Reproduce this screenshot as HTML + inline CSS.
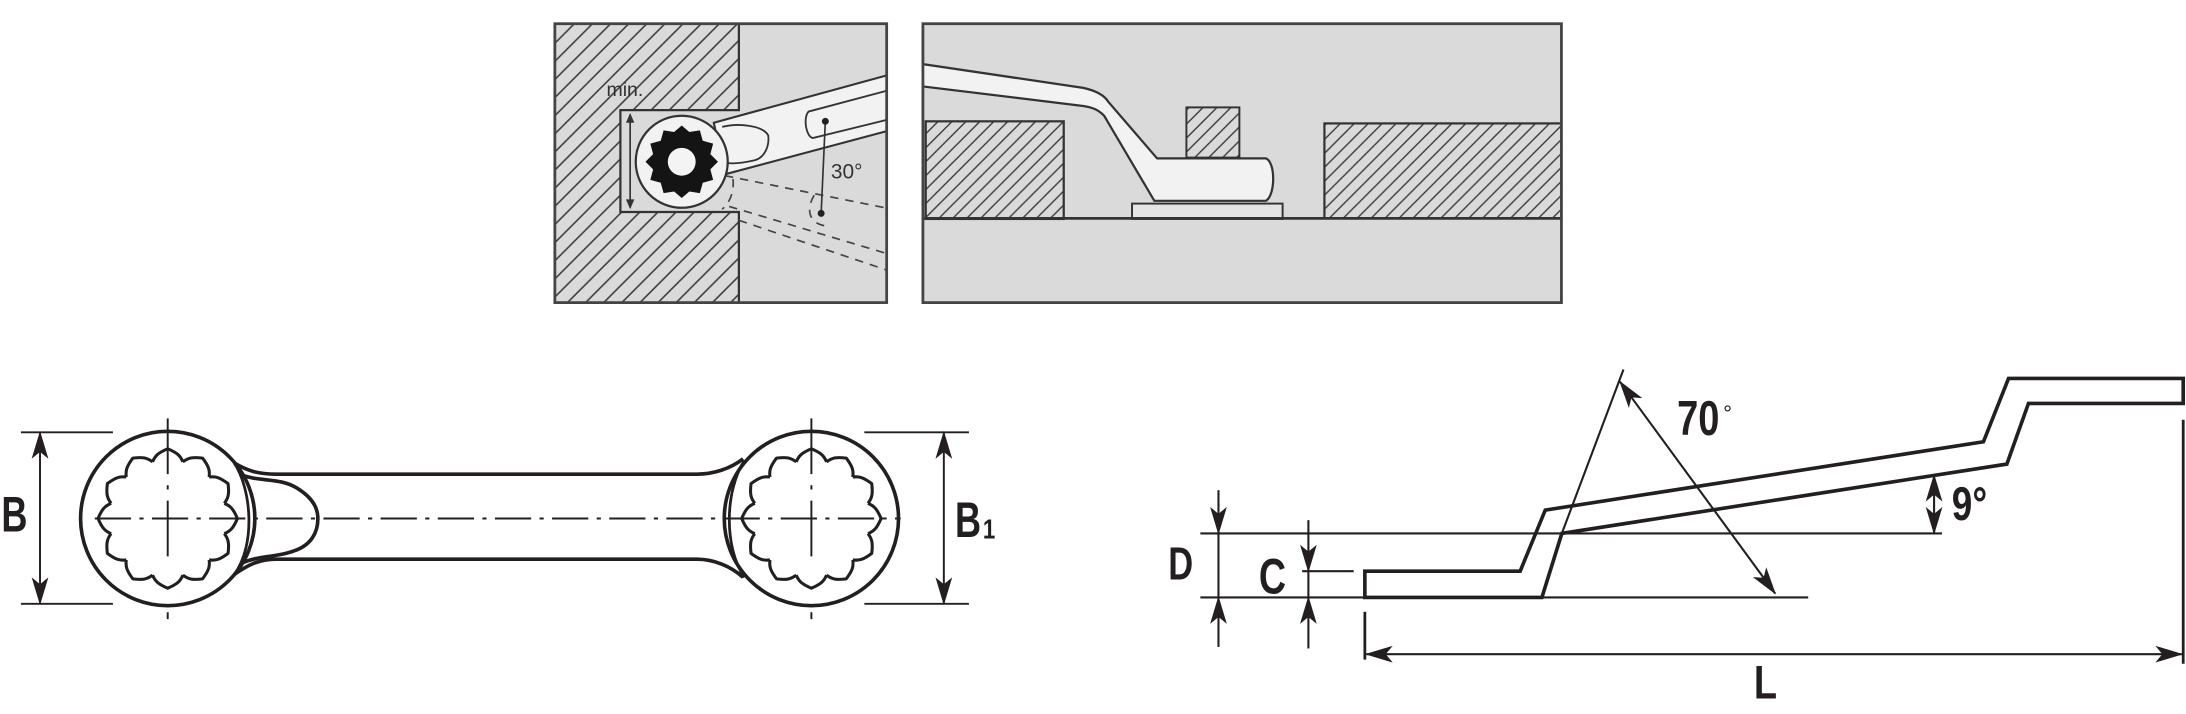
<!DOCTYPE html>
<html><head><meta charset="utf-8">
<style>
html,body{margin:0;padding:0;background:#fff;}
svg{display:block;}
text{font-family:"Liberation Sans",Arial,sans-serif;}
</style></head>
<body>
<svg width="2186" height="714" viewBox="0 0 1568 512" preserveAspectRatio="none" xmlns="http://www.w3.org/2000/svg">
<defs>
<pattern id="h1" patternUnits="userSpaceOnUse" width="13" height="13">
<path d="M-1 14 L14 -1 M-3 3 L3 -3 M10 16 L16 10" stroke="#3a3a3a" stroke-width="1.1"/>
</pattern>
<pattern id="h2" patternUnits="userSpaceOnUse" width="10" height="10">
<path d="M-1 11 L11 -1 M-3 3 L3 -3 M7 13 L13 7" stroke="#3a3a3a" stroke-width="1"/>
</pattern>
<path id="star" d="M0,-50 L10.5,-41 L25,-43.3 L29,-29 L43.3,-25 L39.5,-10.5 L50,0 L39.5,10.5 L43.3,25 L29,29 L25,43.3 L10.5,41 L0,50 L-10.5,41 L-25,43.3 L-29,29 L-43.3,25 L-39.5,10.5 L-50,0 L-39.5,-10.5 L-43.3,-25 L-29,-29 L-25,-43.3 L-10.5,-41 Z"/>
<path id="lobe" d="M40.6,-10.9 C45,-9 47,-7 50,0 C47,7 45,9 40.6,10.9" fill="none"/>
<g id="star2">
<use href="#lobe"/>
<use href="#lobe" transform="rotate(30)"/>
<use href="#lobe" transform="rotate(60)"/>
<use href="#lobe" transform="rotate(90)"/>
<use href="#lobe" transform="rotate(120)"/>
<use href="#lobe" transform="rotate(150)"/>
<use href="#lobe" transform="rotate(180)"/>
<use href="#lobe" transform="rotate(210)"/>
<use href="#lobe" transform="rotate(240)"/>
<use href="#lobe" transform="rotate(270)"/>
<use href="#lobe" transform="rotate(300)"/>
<use href="#lobe" transform="rotate(330)"/>
</g>
<marker id="ar" viewBox="0 0 20 12" refX="19" refY="6" markerWidth="20" markerHeight="12" markerUnits="userSpaceOnUse" orient="auto-start-reverse">
<path d="M0,0 L20,6 L0,12 L5,6 Z" fill="#231f20"/>
</marker>
<clipPath id="cl1"><rect x="398" y="17" width="238" height="200"/></clipPath>
<clipPath id="cl2"><rect x="662" y="17" width="458" height="200"/></clipPath>
</defs>

<!-- ===== Top-left panel ===== -->
<g clip-path="url(#cl1)">
<rect x="398" y="17" width="238" height="200" fill="#dadada"/>
<path d="M398,17 H530 V79 H445 V152 H530 V217 H398 Z" fill="url(#h1)"/>
<path d="M530,17 V79 H445 V152 H530 V217" fill="none" stroke="#333" stroke-width="1.6"/>
<g fill="none" stroke="#444" stroke-width="1.2" stroke-dasharray="6,5">
<path d="M520,126 L640,150"/>
<path d="M523,148 L640,183"/>
<path d="M530,158 L640,195"/>
<path d="M515,110 C528,118 530,140 518,150"/>
<path d="M584,140 C578,150 580,160 592,162"/>
</g>
<path d="M512,88 L640,53 L640,93 L520,125 Z" fill="#f2f2f2" stroke="#333" stroke-width="1.5"/>
<path d="M580,80 L640,64 L640,85 L583,99 C578,98 576,84 580,80 Z" fill="#f2f2f2" stroke="#333" stroke-width="1.3"/>
<path d="M518,91 C530,88 547,90 551,97 C552,104 549,113 541,115 C532,117 523,118 519,116" fill="none" stroke="#333" stroke-width="1.3"/>
<circle cx="489" cy="116" r="33" fill="#f2f2f2" stroke="#333" stroke-width="1.6"/>
<use href="#star" transform="translate(489,116) scale(0.52)" fill="#141414"/>
<circle cx="489" cy="116" r="10" fill="#f4f4f4"/>
<line x1="592" y1="87" x2="589" y2="153" stroke="#333" stroke-width="1.2"/>
<circle cx="592" cy="87" r="2.5" fill="#222"/><circle cx="589" cy="153" r="2.5" fill="#222"/>
<line x1="452" y1="82" x2="452" y2="149" stroke="#333" stroke-width="1.2"/>
<path d="M449,88 L452,81 L455,88 Z M449,143 L452,150 L455,143 Z" fill="#333"/>
<text x="435" y="69" font-size="14" fill="#333">min.</text>
<text x="596" y="128" font-size="15" fill="#333">30°</text>
</g>
<rect x="398" y="17" width="238" height="200" fill="none" stroke="#444" stroke-width="2"/>

<!-- ===== Top-right panel ===== -->
<g clip-path="url(#cl2)">
<rect x="662" y="17" width="458" height="200" fill="#dadada"/>
<rect x="664" y="87" width="99" height="70" fill="url(#h2)" stroke="#333" stroke-width="1.6"/>
<rect x="950" y="88.5" width="170" height="68" fill="url(#h2)" stroke="#333" stroke-width="1.6"/>
<rect x="851" y="77" width="38" height="36" fill="url(#h2)" stroke="#333" stroke-width="1.4"/>
<rect x="812" y="146" width="108" height="11" fill="#e4e4e4" stroke="#333" stroke-width="1.4"/>
<line x1="662" y1="156.6" x2="1120" y2="156.6" stroke="#333" stroke-width="2"/>
<path d="M662,46 L777,63 C786,65 792,68 795,73 L830,113.6 L908,113.6 C915,116 915,140 908,144 L828,144 L792,83 C788,79 784,77 777,76 L662,62 Z" fill="#f2f2f2" stroke="#333" stroke-width="1.6"/>
</g>
<rect x="662" y="17" width="458" height="200" fill="none" stroke="#444" stroke-width="2"/>

<!-- ===== Bottom-left wrench ===== -->
<g fill="none" stroke="#231f20" stroke-width="2.6">
<path d="M168,332 C178,338 186,340 198,340 L500,340 C512,340 524,336 533,329"/>
<path d="M168,412 C178,405 186,401 198,401 L500,401 C512,401 524,406 533,414"/>
<path d="M172,340 C186,346 200,342 213,350 C226,358 228,366 228,372 C228,382 223,391 211,395 C198,400 186,398 173,404"/>
<circle cx="120.3" cy="371.8" r="62.5"/>
<circle cx="582" cy="371.8" r="62.5"/>
<path d="M168,332 C180,350 184,390 168,412" stroke-width="2"/>
<path d="M534,330 C520,352 519,392 534,414" stroke-width="2"/>
</g>
<g stroke="#231f20" stroke-width="2.2" fill="none" stroke-linejoin="round">
<use href="#star2" transform="translate(120.3,371.8)"/>
<use href="#star2" transform="translate(582,371.8)"/>
</g>
<g stroke="#231f20" stroke-width="1.4" fill="none">
<line x1="68" y1="371.8" x2="646" y2="371.8" stroke-dasharray="26,6,3,6"/>
<line x1="120.3" y1="300" x2="120.3" y2="444" stroke-dasharray="40,8,3,8,40"/>
<line x1="582" y1="300" x2="582" y2="444" stroke-dasharray="40,8,3,8,40"/>
<line x1="15" y1="310" x2="81" y2="310"/>
<line x1="15" y1="433" x2="81" y2="433"/>
<line x1="28.7" y1="310" x2="28.7" y2="433" marker-start="url(#ar)" marker-end="url(#ar)"/>
<line x1="620" y1="310" x2="695" y2="310"/>
<line x1="620" y1="433" x2="695" y2="433"/>
<line x1="677" y1="310" x2="677" y2="433" marker-start="url(#ar)" marker-end="url(#ar)"/>
</g>
<text transform="translate(1,381) scale(0.72,1)" font-size="36" font-weight="bold" fill="#231f20">B</text>
<text transform="translate(685,385) scale(0.72,1)" font-size="36" font-weight="bold" fill="#231f20">B</text>
<text transform="translate(705,386) scale(0.8,1)" font-size="20" font-weight="bold" fill="#231f20">1</text>

<!-- ===== Bottom-right profile ===== -->
<path d="M979,409.6 L1090.4,409.6 L1108.4,365.8 L1422.7,316.8 L1440.7,271.4 L1566,271.4 L1566,289.3 L1455,289.3 L1439.5,332.8 L1120.3,382.5 L1106,428.4 L979,428.4 Z" fill="none" stroke="#231f20" stroke-width="2.6" stroke-linejoin="miter"/>
<g stroke="#231f20" stroke-width="1.5" fill="none">
<line x1="1164.5" y1="265" x2="1120.3" y2="382.5"/>
<line x1="861" y1="382.5" x2="1393" y2="382.5"/>
<line x1="861" y1="428.4" x2="1297" y2="428.4"/>
<line x1="1162" y1="273.7" x2="1273.3" y2="425.6" marker-start="url(#ar)" marker-end="url(#ar)"/>
<line x1="874" y1="351.5" x2="874" y2="382.5" marker-end="url(#ar)"/>
<line x1="874" y1="463.9" x2="874" y2="428.4" marker-end="url(#ar)"/>
<line x1="874" y1="382.5" x2="874" y2="428.4"/>
<line x1="938.5" y1="373" x2="938.5" y2="409.6" marker-end="url(#ar)"/>
<line x1="938.5" y1="465" x2="938.5" y2="428.4" marker-end="url(#ar)"/>
<line x1="938.5" y1="409.6" x2="938.5" y2="428.4"/>
<line x1="934" y1="409.6" x2="971" y2="409.6"/>
<line x1="1387.3" y1="340.7" x2="1387.3" y2="382.5" marker-start="url(#ar)" marker-end="url(#ar)"/>
<line x1="979" y1="438.7" x2="979" y2="473" stroke-width="2"/>
<line x1="1566" y1="301" x2="1566" y2="476" stroke-width="2"/>
<line x1="980" y1="469.1" x2="1565" y2="469.1" marker-start="url(#ar)" marker-end="url(#ar)"/>
</g>
<g font-weight="bold" fill="#231f20">
<text transform="translate(838,415.5) scale(0.75,1)" font-size="33">D</text>
<text transform="translate(903,425.6) scale(0.75,1)" font-size="36">C</text>
<text transform="translate(1203,312) scale(0.78,1)" font-size="35">70</text>
<text x="1236" y="302" font-size="16" font-weight="normal">°</text>
<text transform="translate(1400,373) scale(0.78,1)" font-size="34">9°</text>
<text transform="translate(1258,501) scale(0.8,1)" font-size="34">L</text>
</g>
</svg>
</body></html>
